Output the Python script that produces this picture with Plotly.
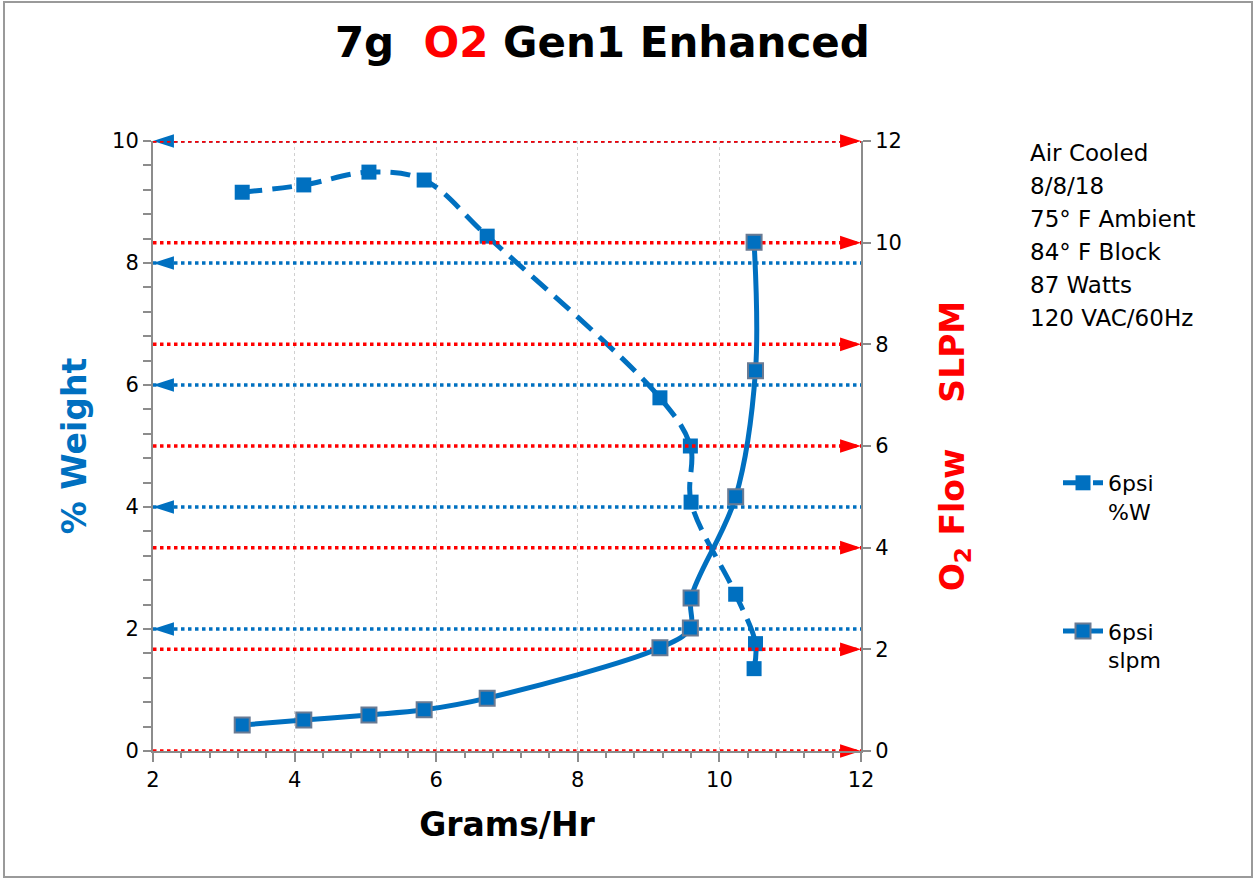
import plotly.graph_objects as go

# ---- data ----
grams_per_hr = [3.26, 4.13, 5.05, 5.83, 6.72, 9.16, 9.59, 9.60, 10.23, 10.51, 10.49]
pct_weight = [9.16, 9.28, 9.49, 9.36, 8.44, 5.79, 5.00, 4.08, 2.57, 1.76, 1.35]
flow_slpm = [0.51, 0.61, 0.71, 0.81, 1.04, 2.03, 2.42, 3.01, 5.00, 7.48, 10.01]

blue_ref_levels = [2, 4, 6, 8, 10]          # left axis (% weight)
red_ref_levels = [0, 2, 4, 6, 8, 10, 12]    # right axis (SLPM)
x_range = [2, 12]

notes = ["Air Cooled", "8/8/18", "75° F Ambient", "84° F Block", "87 Watts", "120 VAC/60Hz"]

BLUE = "#0070C0"
RED = "#FF0000"
W, H = 1255, 879
ML, MR, MT, MB = 153, W - 861, 141, H - 751
PW, PH = W - ML - MR, H - MT - MB

def px_x(px):
    return (px - ML) / PW

def px_y(py):
    return (H - MB - py) / PH

fig = go.Figure()

def ref_lines(levels, color, yaxis):
    xs, ys = [], []
    for v in levels:
        xs += [x_range[0], x_range[1], None]
        ys += [v, v, None]
    fig.add_trace(go.Scatter(x=xs, y=ys, mode="lines", yaxis=yaxis,
                             line=dict(color=color, width=3.5, dash="dot"),
                             showlegend=False, hoverinfo="skip", cliponaxis=False))

ref_lines(red_ref_levels, RED, "y2")
ref_lines(blue_ref_levels, BLUE, "y")

# arrow heads
fig.add_trace(go.Scatter(x=[x_range[0]] * len(blue_ref_levels), y=blue_ref_levels, mode="markers",
                         yaxis="y", marker=dict(symbol="arrow", angle=270, size=22, color=BLUE),
                         showlegend=False, hoverinfo="skip", cliponaxis=False))
fig.add_trace(go.Scatter(x=[x_range[1]] * len(red_ref_levels), y=red_ref_levels, mode="markers",
                         yaxis="y2", marker=dict(symbol="arrow", angle=90, size=22, color=RED),
                         showlegend=False, hoverinfo="skip", cliponaxis=False))

fig.add_trace(go.Scatter(x=grams_per_hr, y=pct_weight, mode="lines+markers", name="6psi<br>%W",
                         yaxis="y", legendgroup="a",
                         line=dict(color=BLUE, width=5, dash="20px,10px", shape="spline", smoothing=1),
                         marker=dict(symbol="square", size=15, color=BLUE, line=dict(color=BLUE, width=0)),
                         cliponaxis=False))
fig.add_trace(go.Scatter(x=grams_per_hr, y=flow_slpm, mode="lines+markers", name="6psi<br>slpm",
                         yaxis="y2", legendgroup="b",
                         line=dict(color=BLUE, width=5, shape="spline", smoothing=1),
                         marker=dict(symbol="square", size=15, color=BLUE, line=dict(color="#6B7B93", width=2)),
                         cliponaxis=False))

tickfont = dict(family="DejaVu Sans", size=21, color="#000000")

fig.update_layout(
    width=W, height=H,
    margin=dict(l=ML, r=MR, t=MT, b=MB, autoexpand=False),
    paper_bgcolor="white", plot_bgcolor="white",
    title=dict(text="7g&nbsp;&nbsp;<span style='color:#FF0000'>O2</span> Gen1 Enhanced",
               x=0.48, xanchor="center", y=1 - 42 / H, yanchor="middle", yref="container",
               font=dict(family="DejaVu Sans", size=42, color="#000000", weight="bold")),
    xaxis=dict(range=x_range, dtick=2, showline=True, linecolor="#8C8C8C", linewidth=2,
               ticks="outside", ticklen=9, tickwidth=2, tickcolor="#8C8C8C",
               minor=dict(dtick=0.4, ticks="outside", ticklen=5, tickwidth=1.5, tickcolor="#8C8C8C", showgrid=False),
               showgrid=True, gridcolor="#D0D0D0", gridwidth=1, griddash="dot",
               zeroline=False, tickfont=tickfont,
               title=dict(text="Grams/Hr", standoff=22,
                          font=dict(family="DejaVu Sans", size=33, color="#000000", weight="bold"))),
    yaxis=dict(range=[0, 10], dtick=2, showline=True, linecolor="#8C8C8C", linewidth=2,
               ticks="outside", ticklen=8, tickwidth=2, tickcolor="#8C8C8C",
               minor=dict(dtick=0.4, ticks="outside", ticklen=8, tickwidth=1.5, tickcolor="#8C8C8C", showgrid=False),
               showgrid=False, zeroline=False, tickfont=tickfont,
               title=dict(text="% Weight", standoff=16,
                          font=dict(family="DejaVu Sans", size=33, color=BLUE, weight="bold"))),
    yaxis2=dict(range=[0, 12], dtick=2, overlaying="y", side="right", showline=True,
                linecolor="#8C8C8C", linewidth=2, ticks="outside", ticklen=8, tickwidth=2,
                tickcolor="#8C8C8C", showgrid=False, zeroline=False, tickfont=tickfont,
                title=dict(text="O<sub>2</sub> Flow&nbsp;&nbsp;&nbsp;&nbsp;SLPM", standoff=40,
                           font=dict(family="DejaVu Sans", size=33, color=RED, weight="bold"))),
    legend=dict(x=px_x(1058), y=px_y(462), xanchor="left", yanchor="top",
                font=dict(family="DejaVu Sans", size=22, color="#000000"),
                tracegroupgap=88, valign="top", bgcolor="rgba(0,0,0,0)", itemwidth=40),
    showlegend=True,
)

for i, line in enumerate(notes):
    fig.add_annotation(text=line, xref="paper", yref="paper", x=px_x(1028), y=px_y(153 + 33 * i),
                       xanchor="left", yanchor="middle", showarrow=False,
                       font=dict(family="DejaVu Sans", size=23, color="#000000"))

fig.add_shape(type="rect", xref="paper", yref="paper",
              x0=px_x(4), x1=px_x(1252), y0=px_y(877), y1=px_y(2),
              line=dict(color="#9A9A9A", width=2), layer="below")

fig.write_html("out.html", config={"displayModeBar": False},
               post_script="document.body.style.margin='0';document.body.style.overflow='hidden';")
